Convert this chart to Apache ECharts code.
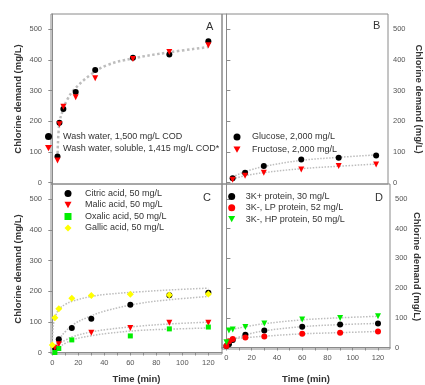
<!DOCTYPE html>
<html>
<head>
<meta charset="utf-8">
<script src="https://cdn.jsdelivr.net/npm/echarts@6/dist/echarts.min.js"></script>
<style>
  html, body { margin: 0; background: #fff; }
  #chart { width: 425px; height: 385px; }
</style>
</head>
<body>
<div id="chart"></div>
<script>
// panel A - wash water
var timeA = [4, 5.5, 8.5, 18, 33, 62, 90, 120];
var washWater = [85, 195, 240, 295, 367, 407, 418, 461];
var washSoluble = [72, 190, 247, 278, 340, 403, 426, 448];
var fitTimeA = [4, 5.4, 8.2, 11.3, 16.3, 29, 42, 62, 90, 120];
var fitA = [79, 193, 236, 269, 301, 350, 383, 405, 425, 442];

// panel B - sugars
var timeB = [5, 15, 30, 60, 90, 120];
var glucose = [14, 32, 54, 75, 81, 88];
var fructose = [9, 22, 32, 42, 54, 59];
var fitGlucose = [18, 35, 52, 72, 82, 90];
var fitFructose = [11, 22, 32, 45, 53, 60];

// panel C - organic acids
var timeC = [0, 2, 5, 15, 30, 60, 90, 120];
var citric = [null, 15, 43, 80, 110, 156, 187, 195];
var malic = [null, 15, 27, null, 64, 80, 97, 97];
var oxalic = [null, 0, 13, 41, null, 54, 77, 83];
var gallic = [24, 113, 143, 177, 186, 190, 188, 191];
var fitTimeC = [0, 1, 3, 6, 10, 16, 29, 42, 67, 90, 120];
var fitGallic = [25, 95, 125, 145, 157, 168, 182, 190, 198, 204, 210];
var fitCitric = [0, 10, 25, 47, 68, 91, 118, 137, 160, 172, 183];
var fitMalic = [5, 12, 20, 30, 40, 52, 66, 75, 86, 93, 99];
var fitOxalic = [0, 6, 12, 20, 30, 42, 54, 62, 72, 76, 80];

// panel D - proteins
var timeD = [0, 2, 5, 15, 30, 60, 90, 120];
var proteinK = [5, 11, 25, 43, 57, 70, 77, 81];
var proteinLP = [5, 21, 29, 34, 37, 46, 50, 54];
var proteinHP = [18, 57, 61, 69, 81, 94, 99, 105];
var fitTimeD = [0, 2, 5, 15, 30, 60, 90, 120];
var fitK = [6, 14, 25, 42, 56, 70, 77, 81];
var fitLP = [5, 18, 28, 33, 38, 46, 50, 54];
var fitHP = [null, 57, 61, 70, 80, 93, 100, 105];

var yTicks = [0, 100, 200, 300, 400, 500];
var xTicks = [0, 10, 20, 30, 40, 50, 60, 70, 80, 90, 100, 110, 120];
var xLabels = [0, 20, 40, 60, 80, 100, 120];

var names = {
  ww: 'Wash water, 1,500 mg/L COD',
  ws: 'Wash water, soluble, 1,415 mg/L COD*',
  glu: 'Glucose, 2,000 mg/L',
  fru: 'Fructose, 2,000 mg/L',
  cit: 'Citric acid, 50 mg/L',
  mal: 'Malic acid, 50 mg/L',
  oxa: 'Oxalic acid, 50 mg/L',
  gal: 'Gallic acid, 50 mg/L',
  k: '3K+ protein, 30 mg/L',
  lp: '3K-, LP protein, 52 mg/L',
  hp: '3K-, HP protein, 50 mg/L'
};

var BLACK = '#000', RED = '#ff0000', GREEN = '#00ee00', YELLOW = '#ffff00';
var FRAME = '#8a8a8a';
// downward triangle, so the legend icon points the same way as the marks
var TRI_DOWN = 'path://M0,0 L10,0 L5,9 Z';

function pairs(xs, ys) {
  var out = [];
  for (var i = 0; i < xs.length; i++) {
    if (ys[i] != null) out.push([xs[i], ys[i]]);
  }
  return out;
}

function dots(name, idx, xs, ys, color, symbol, size) {
  return {
    name: name, type: 'scatter',
    xAxisIndex: idx, yAxisIndex: idx,
    data: pairs(xs, ys),
    symbol: symbol, symbolSize: size,
    itemStyle: { color: color, opacity: 1 },
    z: 3
  };
}

function fit(idx, xs, ys, width) {
  return {
    type: 'line', xAxisIndex: idx, yAxisIndex: idx,
    data: pairs(xs, ys),
    smooth: 0.4, showSymbol: false, silent: true,
    lineStyle: { color: '#bdbdbd', width: width || 1.5, type: 'dotted' },
    z: 1
  };
}

function xAxis(idx, min, max, show, gap) {
  return {
    gridIndex: idx, type: 'value', min: min, max: max,
    splitLine: { show: false },
    axisLine: { show: show, lineStyle: { color: FRAME } },
    axisTick: { show: show, customValues: xTicks, length: 3, lineStyle: { color: FRAME } },
    axisLabel: { show: show, customValues: xLabels, fontSize: 7.5, color: '#555', margin: 5 },
    name: show ? 'Time (min)' : '',
    nameLocation: 'middle', nameGap: gap,
    nameTextStyle: { fontSize: 9.5, fontWeight: 'bold', color: '#333' }
  };
}

function yAxis(idx, pos, gap) {
  return {
    gridIndex: idx, type: 'value', position: pos, min: -5, max: 550,
    splitLine: { show: false },
    axisLine: { show: true, lineStyle: { color: FRAME } },
    axisTick: { customValues: yTicks, length: 4, lineStyle: { color: FRAME } },
    axisLabel: { customValues: yTicks, fontSize: 7.5, color: '#555', margin: pos == 'left' ? 9 : 5 },
    name: 'Chlorine demand (mg/L)',
    nameLocation: 'middle', nameGap: gap,
    nameRotate: pos == 'left' ? 90 : -90,
    nameTextStyle: { fontSize: 9.5, fontWeight: 'bold', color: '#333' }
  };
}

function legend(data, left, top, gap, pad) {
  return {
    data: data, left: left, top: top, orient: 'vertical',
    padding: 0, itemGap: gap, itemWidth: 7, itemHeight: 7,
    itemStyle: { opacity: 1 },
    textStyle: { fontSize: 9, color: '#333', lineHeight: 11, padding: [0, 0, 0, pad] }
  };
}

function letter(text, x, y) {
  return {
    type: 'text', left: x, top: y,
    style: { text: text, fill: '#333', font: '11px "Liberation Sans", Arial, sans-serif' }
  };
}

var chart = echarts.init(document.getElementById('chart'));

chart.setOption({
  animation: false,
  textStyle: { fontFamily: '"Liberation Sans", Arial, sans-serif' },
  grid: [
    { left: 51, top: 14, width: 171, height: 170, show: true, borderColor: FRAME, borderWidth: 1 },
    { left: 222, top: 14, width: 168, height: 170, show: true, borderColor: FRAME, borderWidth: 1 },
    { left: 51, top: 184, width: 171, height: 170, show: true, borderColor: FRAME, borderWidth: 1 },
    { left: 222, top: 184, width: 168, height: 170, show: true, borderColor: FRAME, borderWidth: 1 }
  ],
  xAxis: [
    xAxis(0, -1, 130.5, false, 0),
    xAxis(1, -3.5, 129.5, false, 0),
    xAxis(2, -1, 130.5, true, 20),
    xAxis(3, -3.5, 129.5, true, 25)
  ],
  yAxis: [
    yAxis(0, 'left', 28),
    yAxis(1, 'right', 26),
    yAxis(2, 'left', 28),
    yAxis(3, 'right', 22)
  ],
  legend: [
    legend([names.ww, names.ws], 45, 131, 0.6, 6),
    legend([names.glu, names.fru], 233.5, 131.5, 1.7, 6.5),
    legend([names.cit, names.mal, names.oxa, names.gal], 64.5, 188, 0.5, 8.5),
    legend([names.k, names.lp, names.hp], 228.2, 191, 0.3, 5.5)
  ],
  graphic: [
    letter('A', 206, 21),
    letter('B', 373, 20),
    letter('C', 203, 192),
    letter('D', 375, 192)
  ],
  series: [
    fit(0, fitTimeA, fitA, 2.5),
    dots(names.ww, 0, timeA, washWater, BLACK, 'circle', 6),
    dots(names.ws, 0, timeA, washSoluble, RED, TRI_DOWN, 6),

    fit(1, timeB, fitGlucose),
    fit(1, timeB, fitFructose),
    dots(names.glu, 1, timeB, glucose, BLACK, 'circle', 6),
    dots(names.fru, 1, timeB, fructose, RED, TRI_DOWN, 6),

    fit(2, fitTimeC, fitGallic),
    fit(2, fitTimeC, fitCitric),
    fit(2, fitTimeC, fitMalic),
    fit(2, fitTimeC, fitOxalic),
    dots(names.cit, 2, timeC, citric, BLACK, 'circle', 6),
    dots(names.mal, 2, timeC, malic, RED, TRI_DOWN, 6),
    dots(names.oxa, 2, timeC, oxalic, GREEN, 'rect', 5),
    dots(names.gal, 2, timeC, gallic, YELLOW, 'diamond', 7),

    fit(3, fitTimeD, fitK),
    fit(3, fitTimeD, fitLP),
    fit(3, fitTimeD, fitHP),
    dots(names.k, 3, timeD, proteinK, BLACK, 'circle', 6),
    dots(names.lp, 3, timeD, proteinLP, RED, 'circle', 6),
    dots(names.hp, 3, timeD, proteinHP, GREEN, TRI_DOWN, 6)
  ]
});
</script>
</body>
</html>
